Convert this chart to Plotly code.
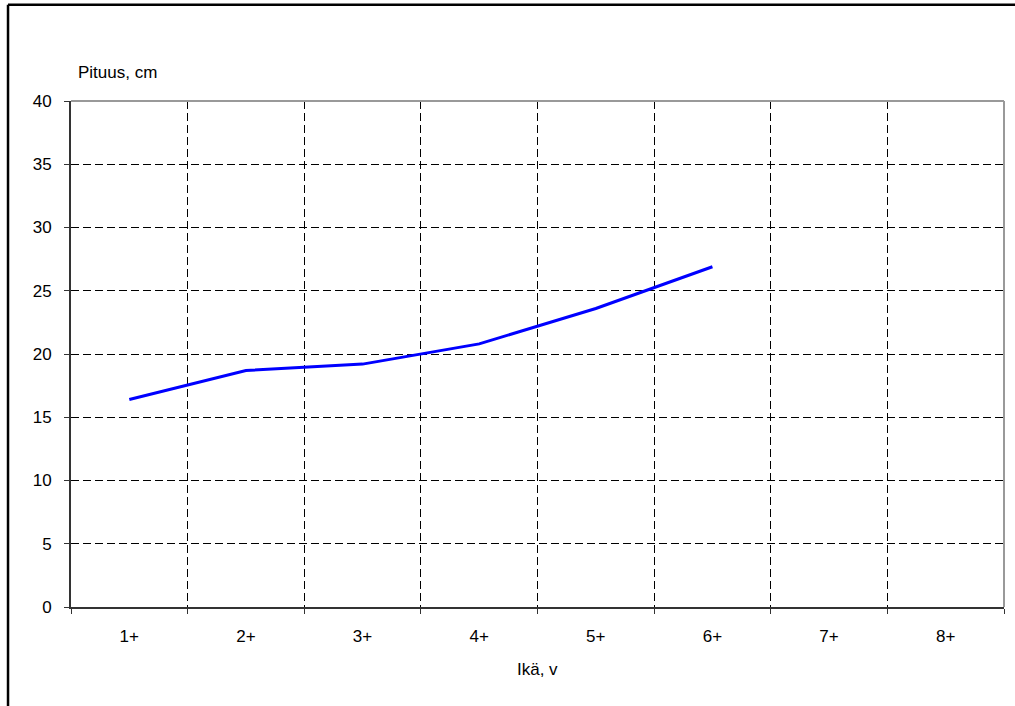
import plotly.graph_objects as go

# data
ika = ["1+", "2+", "3+", "4+", "5+", "6+", "7+", "8+"]
ika_mitattu = ["1+", "2+", "3+", "4+", "5+", "6+"]
pituus = [16.4, 18.7, 19.2, 20.8, 23.6, 26.9]
y_ticks = [0, 5, 10, 15, 20, 25, 30, 35, 40]

font = "Liberation Sans, Arial, sans-serif"

fig = go.Figure()
fig.add_trace(go.Scatter(x=ika_mitattu, y=pituus, mode="lines",
                         line=dict(color="#0000ff", width=3), showlegend=False))

fig.update_layout(
    width=1015, height=706,
    margin=dict(l=71, r=11, t=101, b=99),
    paper_bgcolor="white", plot_bgcolor="white",
    font=dict(family=font, size=17, color="black"),
    xaxis=dict(
        type="category", categoryorder="array", categoryarray=ika,
        range=[-0.5, 7.5], tickson="boundaries",
        ticks="outside", ticklen=5, tickcolor="#333",
        showgrid=True, gridcolor="black", gridwidth=1, griddash="8px,4px",
        showline=True, linecolor="#333", linewidth=2,
        ticklabelstandoff=13,
    ),
    yaxis=dict(
        range=[0, 40], tickvals=y_ticks,
        ticks="outside", ticklen=5, tickcolor="#333",
        showgrid=True, gridcolor="black", gridwidth=1, griddash="8px,4px",
        zeroline=False,
        showline=True, linecolor="#333", linewidth=2,
        ticklabelstandoff=9,
    ),
    shapes=[
        # grey frame on top and right of plot area
        dict(type="line", xref="paper", yref="paper", x0=0, x1=1, y0=1, y1=1,
             line=dict(color="#999", width=2), layer="above"),
        dict(type="line", xref="paper", yref="paper", x0=1, x1=1, y0=0, y1=1,
             line=dict(color="#999", width=2), layer="above"),
        # outer chart border (top and left)
        dict(type="line", xref="paper", yref="paper", x0=-0.0675, x1=1.05,
             y0=1.19, y1=1.19, line=dict(color="black", width=2.5)),
        dict(type="line", xref="paper", yref="paper", x0=-0.0675, x1=-0.0675,
             y0=-0.3, y1=1.19, line=dict(color="black", width=2.5)),
    ],
    annotations=[
        dict(text="Pituus, cm", xref="paper", yref="paper", x=0.05,
             y=1.057, xanchor="center", yanchor="middle", showarrow=False),
        dict(text="Ikä, v", xref="paper", yref="paper", x=0.5, y=-0.1245,
             xanchor="center", yanchor="middle", showarrow=False),
    ],
)

fig.write_html("out.html", config={"displayModeBar": False},
               post_script="document.body.style.margin='0';")
